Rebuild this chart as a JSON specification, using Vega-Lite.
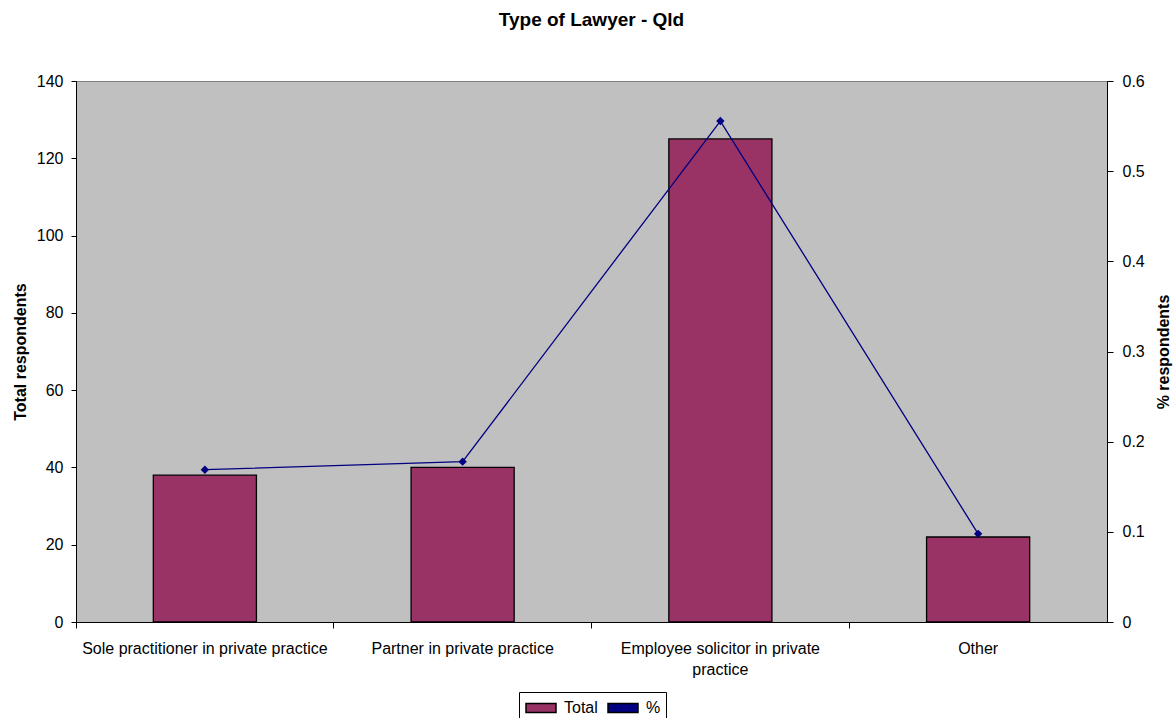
{
  "$schema": "https://vega.github.io/schema/vega-lite/v6.json",
  "autosize": {"type": "none"},
  "width": 1031,
  "height": 541,
  "padding": {"left": 76, "top": 81, "right": 67, "bottom": 96},
  "background": "white",
  "config": {
    "font": "Liberation Sans",
    "view": {"fill": "#C0C0C0", "stroke": "#808080", "strokeWidth": 1},
    "axis": {"domainColor": "black", "tickColor": "black", "labelColor": "black", "titleColor": "black", "grid": false, "labelFont": "Liberation Sans", "titleFont": "Liberation Sans"}
  },
  "title": {"text": "Type of Lawyer - Qld", "fontSize": 19, "fontWeight": "bold", "font": "Liberation Sans", "color": "black", "anchor": "middle", "baseline": "alphabetic", "offset": 28},
  "data": {"values": [
    {"type": "Sole practitioner in private practice", "total": 38, "pct": 0.1689},
    {"type": "Partner in private practice", "total": 40, "pct": 0.1778},
    {"type": "Employee solicitor in private practice", "total": 125, "pct": 0.5556},
    {"type": "Other", "total": 22, "pct": 0.0978}
  ]},
  "layer": [
    {
      "mark": {"type": "bar", "width": {"band": 0.4}, "stroke": "black", "strokeWidth": 1.3},
      "encoding": {
        "x": {"field": "type", "type": "nominal", "sort": null, "scale": {"paddingInner": 0, "paddingOuter": 0},
          "axis": {"title": null, "labelAngle": 0, "ticks": false, "labelFontSize": 16, "labelPadding": 26, "labelLimit": 400, "labelLineHeight": 21, "labelBaseline": "middle",
            "labelExpr": "datum.label == 'Employee solicitor in private practice' ? ['Employee solicitor in private', 'practice'] : datum.label"}},
        "y": {"field": "total", "type": "quantitative", "scale": {"domain": [0, 140], "nice": false},
          "axis": {"title": "Total respondents", "values": [0, 20, 40, 60, 80, 100, 120, 140], "labelFontSize": 16, "tickSize": 5, "labelPadding": 8, "titleFontSize": 16, "titleFontWeight": "bold", "titlePadding": 8}},
        "color": {"datum": "Total", "type": "nominal",
          "scale": {"domain": ["Total", "%"], "range": ["#993366", "#000080"]},
          "legend": {"orient": "none", "legendX": 443, "legendY": 611, "direction": "horizontal", "title": null,
            "strokeColor": "black", "fillColor": "white", "padding": 5, "labelFontSize": 16, "labelColor": "black", "symbolSize": 400, "symbolOffset": 6, "columnPadding": 7, "labelOffset": 12,
            "symbolType": "M-1.5,-0.45L1.5,-0.45L1.5,0.45L-1.5,0.45Z",
            "encode": {"symbols": {
              "fill": {"value": {"expr": "datum.value == 'Total' ? '#993366' : '#000080'"}},
              "stroke": {"value": {"expr": "datum.value == 'Total' ? 'black' : '#000080'"}},
              "strokeWidth": {"value": 1.3},
              "opacity": {"value": 1}
            }}}}
      }
    },
    {
      "mark": {"type": "line", "color": "#000080", "strokeWidth": 1.3, "point": {"shape": "diamond", "filled": true, "size": 70, "color": "#000080"}},
      "encoding": {
        "x": {"field": "type", "type": "nominal", "sort": null,
          "axis": {"orient": "bottom", "title": null, "labels": false, "ticks": true, "tickSize": 6, "bandPosition": 0, "domain": true}},
        "y": {"field": "pct", "type": "quantitative", "scale": {"domain": [0, 0.6], "nice": false},
          "axis": {"orient": "right", "title": "% respondents", "values": [0, 0.1, 0.2, 0.3, 0.4, 0.5, 0.6], "format": ".1~f", "labelFontSize": 16, "tickSize": 6, "labelPadding": 9, "titleFontSize": 16, "titleFontWeight": "bold", "titleAngle": 270, "titlePadding": 27}}
      }
    }
  ],
  "resolve": {"scale": {"y": "independent"}, "axis": {"x": "independent"}}
}
